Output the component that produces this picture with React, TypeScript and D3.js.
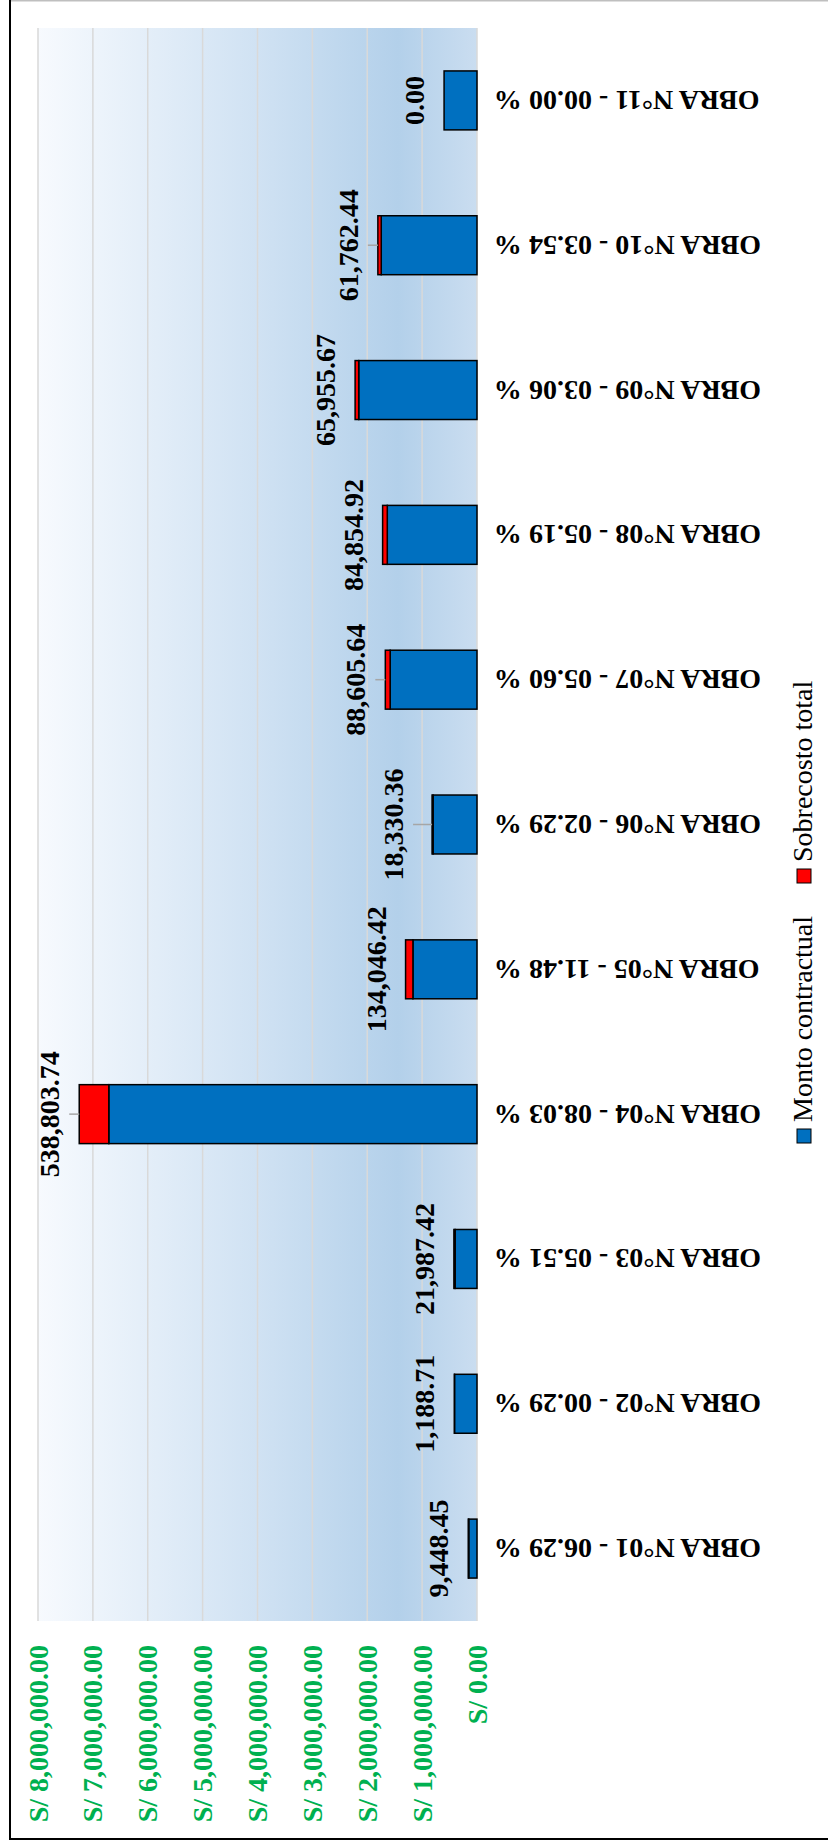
import React from "react";
import * as d3 from "d3";

// ---- data ----
const categories = [
  "OBRA N°01 - 06.29 %",
  "OBRA N°02 - 00.29 %",
  "OBRA N°03 - 05.51 %",
  "OBRA N°04 - 08.03 %",
  "OBRA N°05 - 11.48 %",
  "OBRA N°06 - 02.29 %",
  "OBRA N°07 - 05.60 %",
  "OBRA N°08 - 05.19 %",
  "OBRA N°09 - 03.06 %",
  "OBRA N°10 - 03.54 %",
  "OBRA N°11 - 00.00 %",
];
const montoContractual = [
  150200, 409900, 399000, 6709800, 1167650, 800450, 1582240, 1634970, 2155410,
  1744700, 600000,
];
const sobrecostoTotal = [
  9448.45, 1188.71, 21987.42, 538803.74, 134046.42, 18330.36, 88605.64,
  84854.92, 65955.67, 61762.44, 0.0,
];
const valueTicks = [0, 1000000, 2000000, 3000000, 4000000, 5000000, 6000000, 7000000, 8000000];
const seriesNames = ["Monto contractual", "Sobrecosto total"];
const seriesKeys = ["monto", "sobre"];
const seriesColors = ["#0070C0", "#FF0000"];

const FONT = "'Liberation Serif', 'Times New Roman', serif";

export default function App() {
  // The chart is drawn as an upright column chart (1840 x 828) and the whole
  // group is rotated -90deg onto the 828 x 1840 page.
  const x = d3
    .scaleBand<string>()
    .domain(categories)
    .range([219, 1812])
    .paddingInner(0.593)
    .paddingOuter(0.2965);
  const y = d3.scaleLinear().domain([0, 8000000]).range([477, 38]);

  const rows = categories.map((c, i) => ({
    cat: c,
    monto: montoContractual[i],
    sobre: sobrecostoTotal[i],
  }));
  const stacked = d3.stack<any>().keys(seriesKeys)(rows as any);

  const fmtLabel = d3.format(",.2f");
  const fmtTick = (v: number) => "S/ " + d3.format(",.2f")(v);

  const leaderIdx = new Set([3, 5, 6, 9]);
  const extraGap: Record<number, number> = { 5: 9 };

  const plotX0 = 219;
  const plotX1 = 1812;

  return (
    <svg
      width={828}
      height={1840}
      style={{ position: "absolute", left: 0, top: 0, background: "#fff" }}
    >
      <defs>
        <linearGradient id="plotBg" x1="0" y1="0" x2="0" y2="1">
          <stop offset="0" stopColor="#F7FAFE" />
          <stop offset="0.5" stopColor="#D0E2F3" />
          <stop offset="0.82" stopColor="#B3D0EA" />
          <stop offset="1" stopColor="#CADDF0" />
        </linearGradient>
      </defs>

      {/* outer frame */}
      <line x1={11} x2={828} y1={0.75} y2={0.75} stroke="#BFBFBF" strokeWidth={1.5} />
      <line x1={10} x2={10} y1={0} y2={1840} stroke="#000" strokeWidth={2} />
      <line x1={9} x2={828} y1={1839} y2={1839} stroke="#000" strokeWidth={2} />

      <g transform="translate(0,1840) rotate(-90)">
        {/* plot area */}
        <rect
          x={plotX0}
          y={y(8000000)}
          width={plotX1 - plotX0}
          height={y(0) - y(8000000)}
          fill="url(#plotBg)"
        />
        {/* gridlines */}
        {valueTicks.map((t) => (
          <line
            key={"g" + t}
            x1={plotX0}
            x2={plotX1}
            y1={y(t)}
            y2={y(t)}
            stroke="#D9D9D9"
            strokeWidth={1.5}
          />
        ))}

        {/* bars */}
        {stacked.map((s, si) => (
          <g key={s.key}>
            {s.map((d: any, i: number) => (
              <rect
                key={i}
                x={x(categories[i])!}
                width={x.bandwidth()}
                y={y(d[1])}
                height={Math.max(0, y(d[0]) - y(d[1]))}
                fill={seriesColors[si]}
                stroke="#000"
                strokeWidth={1.5}
              />
            ))}
          </g>
        ))}

        {/* leader lines + data labels */}
        {categories.map((c, i) => {
          const cx = x(c)! + x.bandwidth() / 2;
          const top = y(montoContractual[i] + sobrecostoTotal[i]);
          const base = top - 20 - (extraGap[i] || 0);
          return (
            <g key={"l" + i}>
              {leaderIdx.has(i) && (
                <line
                  x1={cx}
                  x2={cx}
                  y1={base + 10}
                  y2={top}
                  stroke="#A6A6A6"
                  strokeWidth={1.5}
                />
              )}
              <text
                x={cx}
                y={base}
                textAnchor="middle"
                fontFamily={FONT}
                fontWeight="bold"
                fontSize={28}
                fill="#000"
              >
                {fmtLabel(sobrecostoTotal[i])}
              </text>
            </g>
          );
        })}

        {/* value axis labels */}
        {valueTicks.map((t) => (
          <text
            key={"t" + t}
            x={195}
            y={y(t)}
            dy="0.34em"
            textAnchor="end"
            fontFamily={FONT}
            fontWeight="bold"
            fontSize={28}
            fill="#00B050"
          >
            {fmtTick(t)}
          </text>
        ))}

        {/* category labels */}
        {categories.map((c) => (
          <text
            key={"c" + c}
            transform={`translate(${x(c)! + x.bandwidth() / 2},494) rotate(-90)`}
            dy="0.34em"
            textAnchor="end"
            fontFamily={FONT}
            fontWeight="bold"
            fontSize={28}
            fill="#000"
          >
            {c}
          </text>
        ))}

        {/* legend */}
        {seriesNames.map((n, i) => {
          const lx = i === 0 ? 697 : 957;
          return (
            <g key={"lg" + i}>
              <rect
                x={lx}
                y={797}
                width={14}
                height={14}
                fill={seriesColors[i]}
                stroke="#000"
                strokeWidth={1}
              />
              <text
                x={lx + 21}
                y={812}
                fontFamily={FONT}
                fontSize={28}
                fill="#000"
              >
                {n}
              </text>
            </g>
          );
        })}
      </g>
    </svg>
  );
}
